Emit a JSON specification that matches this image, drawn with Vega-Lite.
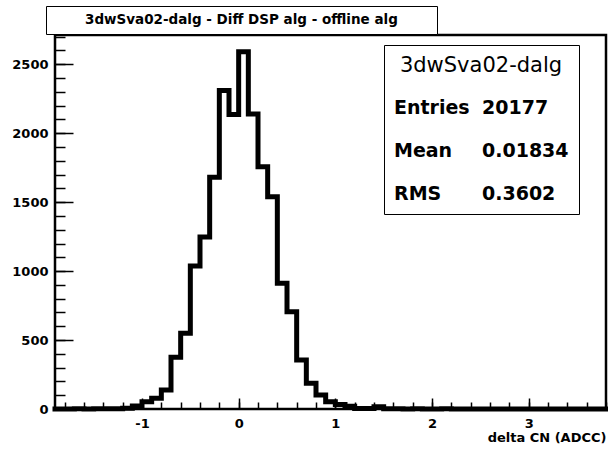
{
  "$schema": "https://vega.github.io/schema/vega-lite/v6.json",
  "width": 551,
  "height": 374,
  "autosize": {"type": "none"},
  "padding": {"left": 55, "top": 35, "right": 2, "bottom": 42},
  "background": "white",
  "config": {
    "view": {"stroke": "black", "strokeWidth": 2.5},
    "font": "DejaVu Sans"
  },
  "data": {"values": [
    {"x": -1.9, "n": 0}, {"x": -1.8, "n": 0}, {"x": -1.7, "n": 1}, {"x": -1.6, "n": 0}, {"x": -1.5, "n": 1},
    {"x": -1.4, "n": 1}, {"x": -1.3, "n": 2}, {"x": -1.2, "n": 5}, {"x": -1.1, "n": 22}, {"x": -1.0, "n": 52},
    {"x": -0.9, "n": 78}, {"x": -0.8, "n": 138}, {"x": -0.7, "n": 375}, {"x": -0.6, "n": 550}, {"x": -0.5, "n": 1037},
    {"x": -0.4, "n": 1247}, {"x": -0.3, "n": 1680}, {"x": -0.2, "n": 2310}, {"x": -0.1, "n": 2135}, {"x": 0.0, "n": 2590},
    {"x": 0.1, "n": 2140}, {"x": 0.2, "n": 1757}, {"x": 0.3, "n": 1540}, {"x": 0.4, "n": 911}, {"x": 0.5, "n": 706},
    {"x": 0.6, "n": 355}, {"x": 0.7, "n": 186}, {"x": 0.8, "n": 101}, {"x": 0.9, "n": 53}, {"x": 1.0, "n": 32},
    {"x": 1.1, "n": 20}, {"x": 1.2, "n": 4}, {"x": 1.3, "n": 3}, {"x": 1.4, "n": 16}, {"x": 1.5, "n": 2},
    {"x": 1.6, "n": 1}, {"x": 1.7, "n": 0}, {"x": 1.8, "n": 1}, {"x": 1.9, "n": 0}, {"x": 2.0, "n": 0},
    {"x": 2.1, "n": 1}, {"x": 2.2, "n": 0}, {"x": 2.3, "n": 0}, {"x": 2.4, "n": 0}, {"x": 2.5, "n": 0},
    {"x": 2.6, "n": 0}, {"x": 2.7, "n": 0}, {"x": 2.8, "n": 0}, {"x": 2.9, "n": 0}, {"x": 3.0, "n": 0},
    {"x": 3.1, "n": 0}, {"x": 3.2, "n": 0}, {"x": 3.3, "n": 0}, {"x": 3.4, "n": 0}, {"x": 3.5, "n": 0},
    {"x": 3.6, "n": 0}, {"x": 3.7, "n": 0}, {"x": 3.8, "n": 0}
  ]},
  "resolve": {"axis": {"x": "independent", "y": "independent"}},
  "layer": [
    {
      "mark": {"type": "line", "interpolate": "step-after", "opacity": 0},
      "encoding": {
        "x": {"field": "x", "type": "quantitative", "scale": {"domain": [-1.9, 3.8], "nice": false, "zero": false},
          "axis": {"orient": "bottom", "tickCount": 28, "grid": false, "domain": false, "labels": false, "ticks": true, "tickColor": "black", "tickWidth": 1.5, "offset": -7, "tickSize": 7, "title": null}},
        "y": {"field": "n", "type": "quantitative", "scale": {"domain": [0, 2712], "nice": false},
          "axis": {"orient": "left", "tickCount": 27, "grid": false, "domain": false, "labels": false, "ticks": true, "tickColor": "black", "tickWidth": 1.5, "offset": -10, "tickSize": 10, "title": null}}
      }
    },
    {
      "mark": {"type": "line", "interpolate": "step-after", "opacity": 0},
      "encoding": {
        "x": {"field": "x", "type": "quantitative", "scale": {"domain": [-1.9, 3.8], "nice": false, "zero": false},
          "axis": {"orient": "bottom", "tickCount": 5, "grid": false, "domain": false, "labels": false, "ticks": true, "tickColor": "black", "tickWidth": 1.5, "offset": -11, "tickSize": 11, "title": null}},
        "y": {"field": "n", "type": "quantitative", "scale": {"domain": [0, 2712], "nice": false},
          "axis": {"orient": "left", "tickCount": 6, "grid": false, "domain": false, "labels": false, "ticks": true, "tickColor": "black", "tickWidth": 1.5, "offset": -18, "tickSize": 18, "title": null}}
      }
    },
    {
      "mark": {"type": "line", "interpolate": "step-after", "color": "black", "strokeWidth": 5, "strokeJoin": "miter", "strokeCap": "square"},
      "encoding": {
        "x": {"field": "x", "type": "quantitative", "scale": {"domain": [-1.9, 3.8], "nice": false, "zero": false},
          "axis": {"orient": "bottom", "tickCount": 5, "labelExpr": "'' + datum.value", "grid": false, "domain": false, "ticks": false, "labelPadding": 8, "labelColor": "black", "labelFont": "DejaVu Sans", "labelFontWeight": "bold", "labelFontSize": 13, "labelFlush": false, "labelOverlap": false,
            "title": "delta CN (ADCC)", "titleColor": "black", "titleAnchor": "end", "titleFont": "DejaVu Sans", "titleFontWeight": "bold", "titleFontSize": 13, "titlePadding": 1}},
        "y": {"field": "n", "type": "quantitative", "scale": {"domain": [0, 2712], "nice": false},
          "axis": {"orient": "left", "tickCount": 6, "labelExpr": "'' + datum.value", "grid": false, "domain": false, "ticks": false, "labelPadding": 7, "labelColor": "black", "labelFont": "DejaVu Sans", "labelFontWeight": "bold", "labelFontSize": 13, "labelFlush": false, "labelOverlap": false, "title": null}}
      }
    },
    {
      "data": {"values": [{"s": "Entries"}, {"s": "Mean"}, {"s": "RMS"}, {"s": "20177"}, {"s": "0.01834"}, {"s": "0.3602"}]},
      "mark": {"type": "point", "opacity": 0},
      "encoding": {
        "color": {"field": "s", "type": "nominal", "sort": null, "scale": {"range": ["black"]},
          "legend": {"orient": "none", "legendX": 329, "legendY": 10, "title": "3dwSva02-dalg", "titleFont": "DejaVu Sans", "titleFontSize": 21, "titleFontWeight": "normal", "titleColor": "black", "titleAnchor": "middle", "titlePadding": 22,
            "columns": 2, "columnPadding": 12, "rowPadding": 23, "labelFont": "DejaVu Sans", "labelFontSize": 19, "labelFontWeight": "bold", "labelColor": "black", "labelLimit": 0, "labelOffset": -19,
            "symbolSize": 0.0001, "symbolOpacity": 0, "symbolStrokeWidth": 0, "strokeColor": "black", "fillColor": "white", "padding": 10}}
      }
    },
    {
      "data": {"values": [{"t": "3dwSva02-dalg - Diff DSP alg - offline alg"}, {"t": " "}]},
      "mark": {"type": "point", "opacity": 0},
      "encoding": {
        "shape": {"field": "t", "type": "nominal", "sort": null,
          "legend": {"orient": "none", "legendX": -9, "legendY": -29, "title": null, "direction": "horizontal", "columnPadding": 0, "labelOffset": 18.5,
            "labelFont": "DejaVu Sans", "labelFontSize": 13.5, "labelFontWeight": "bold", "labelColor": "black", "labelLimit": 0,
            "symbolSize": 0.0001, "symbolOpacity": 0, "symbolStrokeWidth": 0, "strokeColor": "black", "fillColor": "white", "padding": 7}}
      }
    }
  ]
}
